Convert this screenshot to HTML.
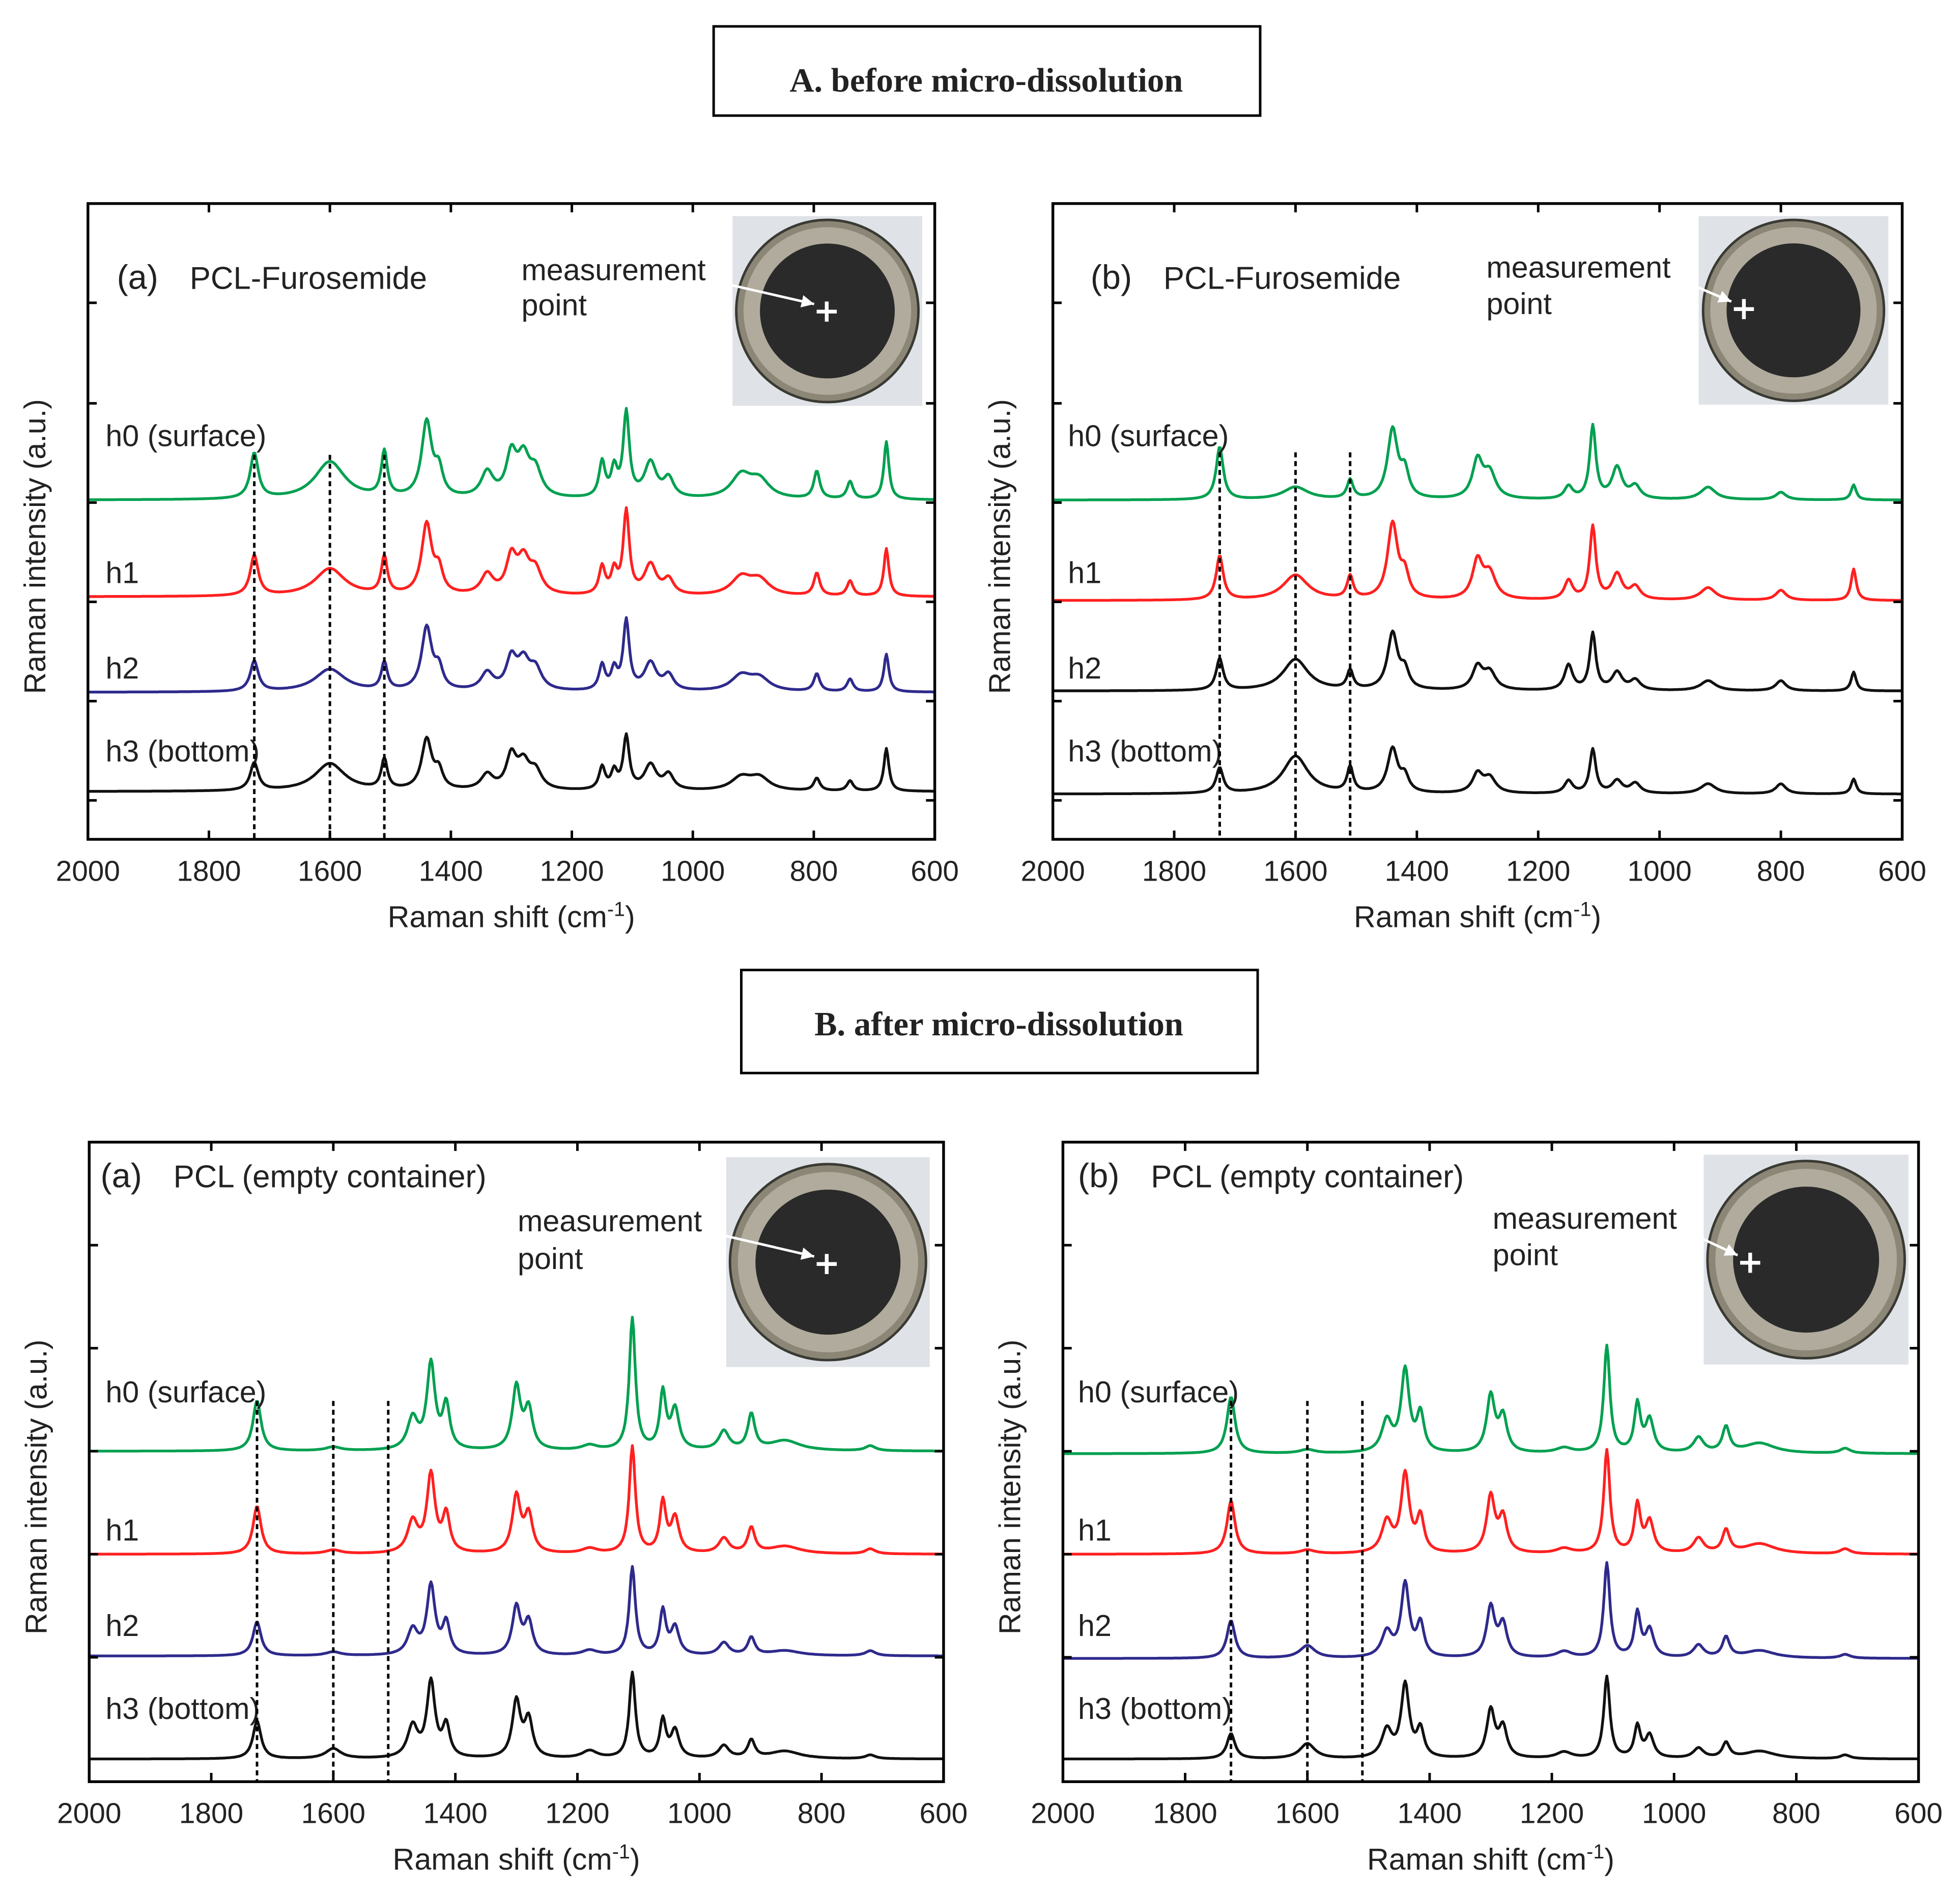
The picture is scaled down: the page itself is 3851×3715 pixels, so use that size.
<!DOCTYPE html>
<html><head><meta charset="utf-8">
<style>
html,body{margin:0;padding:0;background:#fff}
svg{display:block}
text{font-family:"Liberation Sans",sans-serif;fill:#222}
.t{font-family:"Liberation Serif",serif;font-weight:bold;font-size:27px}
</style></head>
<body>
<svg id="fig" width="3851" height="3715" viewBox="0 0 1560 1505" preserveAspectRatio="none" xmlns="http://www.w3.org/2000/svg">
<rect x="568" y="21" width="435" height="71" fill="none" stroke="#000" stroke-width="2"/>
<text class="t" x="785" y="73" text-anchor="middle">A. before micro-dissolution</text>
<rect x="590" y="772" width="411" height="82" fill="none" stroke="#000" stroke-width="2"/>
<text class="t" x="795" y="824" text-anchor="middle">B. after micro-dissolution</text>
</svg>
<script>
const xTicks = [2000,1800,1600,1400,1200,1000,800,600];
const traceNames = ["h0 (surface)","h1","h2","h3 (bottom)"];
const dashPos = [1725,1600,1510];

const aaPeaks  = [1725,1600,1510,1440,1420,1340,1300,1280,1260,1150,1130,1110,1070,1040,920,890,795,740,680];
const aaWidths = [8,30,6,10,8,12,10,12,12,6,6,6,12,10,20,20,6,6,5];
const aaH0 = [36,30,36,60,20,20,32,30,20,28,22,67,28,15,18,14,22,14,46];
const aaH1 = [32,22,30,56,18,16,28,26,18,22,18,66,24,12,14,12,18,12,38];
const aaH2 = [24,18,22,50,16,14,24,22,16,20,16,55,22,12,12,10,14,10,30];
const aaH3 = [22,22,24,40,14,12,26,20,14,18,14,42,20,12,10,10,10,8,34];

const abPeaks  = [1725,1600,1510,1440,1420,1300,1280,1150,1110,1070,1040,920,800,680];
const abWidths = [7,25,6,10,8,10,12,8,6,10,10,15,10,5];
const abH0 = [42,10,15,55,20,30,20,10,58,25,10,10,6,12];
const abH1 = [35,20,18,60,18,30,20,15,58,20,10,10,8,25];
const abH2 = [25,25,15,45,14,18,14,20,45,14,8,8,8,15];
const abH3 = [20,30,20,35,12,15,12,10,35,10,8,8,8,12];

const baPeaks  = [1725,1600,1470,1440,1415,1300,1280,1180,1110,1060,1040,960,915,860,720];
const baWidths = [8,15,10,8,7,8,8,15,6,6,8,10,7,30,10];
const baH0 = [40,3,25,68,35,50,32,4,105,45,32,15,28,8,4];
const baH1 = [38,3,25,62,30,45,30,4,85,40,28,12,20,6,4];
const baH2 = [27,3,20,55,25,38,26,4,70,35,22,10,14,4,4];
const baH3 = [30,8,25,60,25,45,30,6,68,30,22,10,14,6,3];

const bbPeaks  = [1725,1600,1470,1440,1415,1300,1280,1180,1110,1060,1040,960,915,860,720];
const bbWidths = [8,15,10,8,7,8,8,15,6,6,8,10,7,30,10];
const bbH0 = [45,3,25,65,30,45,28,4,85,38,26,12,20,8,4];
const bbH1 = [42,3,25,62,28,45,28,4,82,38,25,12,18,8,4];
const bbH2 = [30,10,20,58,26,40,26,5,75,35,22,10,16,6,3];
const bbH3 = [20,12,22,58,22,38,24,5,65,25,18,8,12,6,3];

const colorsA = ["#00a050","#ff2020","#2e2a8c","#111"];
const colorsAb = ["#00a050","#ff2020","#111","#111"];

const panels = [
 {id:"a-a",x0:70,x1:744,y0:162,y1:668,base:[398,475,551,630],peaks:aaPeaks,w:aaWidths,h:[aaH0,aaH1,aaH2,aaH3],col:colorsA,
  label:"PCL-Furosemide",pre:"(a)",lx:93,l2:151,ly:230,tlx:84,mx:415,my:[223,251],ins:[583,172,151,151],cross:[658,248],dashTop:362,
  tl:[355,464,540,606],yt:[241,321,400,479,558,637]},
 {id:"a-b",x0:838,x1:1514,y0:162,y1:668,base:[398,478,550,632],peaks:abPeaks,w:abWidths,h:[abH0,abH1,abH2,abH3],col:colorsAb,
  label:"PCL-Furosemide",pre:"(b)",lx:868,l2:926,ly:230,tlx:850,mx:1183,my:[221,250],ins:[1352,172,151,150],cross:[1388,246],dashTop:360,
  tl:[355,464,540,606],yt:[241,321,400,479,558,637]},
 {id:"b-a",x0:71,x1:751,y0:909,y1:1418,base:[1155,1237,1318,1400],peaks:baPeaks,w:baWidths,h:[baH0,baH1,baH2,baH3],col:colorsA,
  label:"PCL (empty container)",pre:"(a)",lx:80,l2:138,ly:945,tlx:84,mx:412,my:[980,1010],ins:[578,921,162,167],cross:[658,1006],dashTop:1115,
  tl:[1116,1226,1302,1368],yt:[991,1073,1155,1237,1319]},
 {id:"b-b",x0:846,x1:1527,y0:909,y1:1418,base:[1157,1237,1320,1400],peaks:bbPeaks,w:bbWidths,h:[bbH0,bbH1,bbH2,bbH3],col:colorsA,
  label:"PCL (empty container)",pre:"(b)",lx:858,l2:916,ly:945,tlx:858,mx:1188,my:[978,1007],ins:[1356,919,163,167],cross:[1393,1005],dashTop:1115,
  tl:[1116,1226,1302,1368],yt:[991,1073,1155,1237,1319]}
];

const NS="http://www.w3.org/2000/svg";
const svg=document.getElementById("fig");
function mk(tag,attrs,parent){const e=document.createElementNS(NS,tag);for(const k in attrs)e.setAttribute(k,attrs[k]);(parent||svg).appendChild(e);return e;}

panels.forEach(p=>{
  const g=mk("g",{});
  
  
  const sx=v=>p.x0+(2000-v)/1400*(p.x1-p.x0);
  for(let t=0;t<4;t++){
    let d="";
    for(let v=2000;v>=600;v-=2){
      let s=0;
      for(let i=0;i<p.peaks.length;i++){const w=p.w[i],dx=v-p.peaks[i];s+=p.h[t][i]*w*w/(dx*dx+w*w);}
      d+=(v===2000?"M":"L")+sx(v).toFixed(1)+","+(p.base[t]-s).toFixed(1);
    }
    const path=mk("path",{d:d,fill:"none",stroke:p.col[t],"stroke-width":2.2,"stroke-linejoin":"round"},g);
    
    
    const lt=mk("text",{x:p.tlx,y:p.tl[t],"font-size":24},g);
    lt.textContent=traceNames[t];
    
    
  }
  dashPos.forEach(v=>{
    const l=mk("line",{x1:sx(v),x2:sx(v),y1:p.dashTop,y2:p.y1,stroke:"#000","stroke-width":2,"stroke-dasharray":"4,3"},g);
    
    
  });
  const fr=mk("rect",{x:p.x0,y:p.y0,width:p.x1-p.x0,height:p.y1-p.y0,fill:"none",stroke:"#000","stroke-width":2.2},g);
  
  
  xTicks.forEach(v=>{
    mk("line",{x1:sx(v),x2:sx(v),y1:p.y1,y2:p.y1-7,stroke:"#000","stroke-width":2},g);
    mk("line",{x1:sx(v),x2:sx(v),y1:p.y0,y2:p.y0+7,stroke:"#000","stroke-width":2},g);
    const tx=mk("text",{x:sx(v),y:p.y1+33,"font-size":23,"text-anchor":"middle"},g);
    tx.textContent=v;
    
    
  });
  p.yt.forEach(y=>{
    mk("line",{x1:p.x0,x2:p.x0+7,y1:y,y2:y,stroke:"#000","stroke-width":2},g);
    mk("line",{x1:p.x1,x2:p.x1-7,y1:y,y2:y,stroke:"#000","stroke-width":2},g);
  });
  const xt=mk("text",{x:(p.x0+p.x1)/2,y:p.y1+70,"font-size":24,"text-anchor":"middle"},g);
  xt.innerHTML='Raman shift (cm<tspan dy="-9" font-size="16">-1</tspan><tspan dy="9">)</tspan>';
  
  
  const cy=(p.y0+p.y1)/2+20;
  const yt=mk("text",{x:p.x0-34,y:cy,"font-size":24,"text-anchor":"middle",transform:`rotate(-90 ${p.x0-34} ${cy})`},g);
  yt.textContent="Raman intensity (a.u.)";
  
  
  const lb=mk("text",{x:p.lx,y:p.ly,"font-size":27},g);
  lb.textContent=p.pre;
  
  
  const lb2=mk("text",{x:p.l2,y:p.ly,"font-size":25},g);
  lb2.textContent=p.label;
  
  
  ["measurement","point"].forEach((s,i)=>{
    const m=mk("text",{x:p.mx,y:p.my[i],"font-size":24},g);
    m.textContent=s;
    
    
  });
  const [ix,iy,iw,ih]=p.ins;
  const ig=mk("g",{},g);
  
  
  mk("rect",{x:ix,y:iy,width:iw,height:ih,fill:"#dfe2e6"},ig);
  const cx=ix+iw/2,ccy=iy+ih/2,R=Math.min(iw,ih)/2-3;
  mk("circle",{cx:cx,cy:ccy,r:R,fill:"#8c8676",stroke:"#3a3a34","stroke-width":2},ig);
  mk("circle",{cx:cx,cy:ccy,r:R*0.92,fill:"#b0ab9c"},ig);
  mk("circle",{cx:cx,cy:ccy,r:R*0.74,fill:"#2a2a2a"},ig);
  const [kx,ky]=p.cross;
  mk("path",{d:`M${kx-8},${ky}H${kx+8}M${kx},${ky-8}V${ky+8}`,stroke:"#fff","stroke-width":3},ig);
  mk("path",{d:`M${p.mx+150},${p.my[0]+0} L${kx-10},${ky-6}`,stroke:"#fff","stroke-width":2},ig);
  const ang=Math.atan2((ky-6)-(p.my[0]),(kx-10)-(p.mx+150));
  const hx=kx-10,hy=ky-6;
  mk("path",{d:`M${hx},${hy} L${hx-10*Math.cos(ang)+5*Math.sin(ang)},${hy-10*Math.sin(ang)-5*Math.cos(ang)} L${hx-10*Math.cos(ang)-5*Math.sin(ang)},${hy-10*Math.sin(ang)+5*Math.cos(ang)}Z`,fill:"#fff"},ig);
});
</script>
</body></html>
